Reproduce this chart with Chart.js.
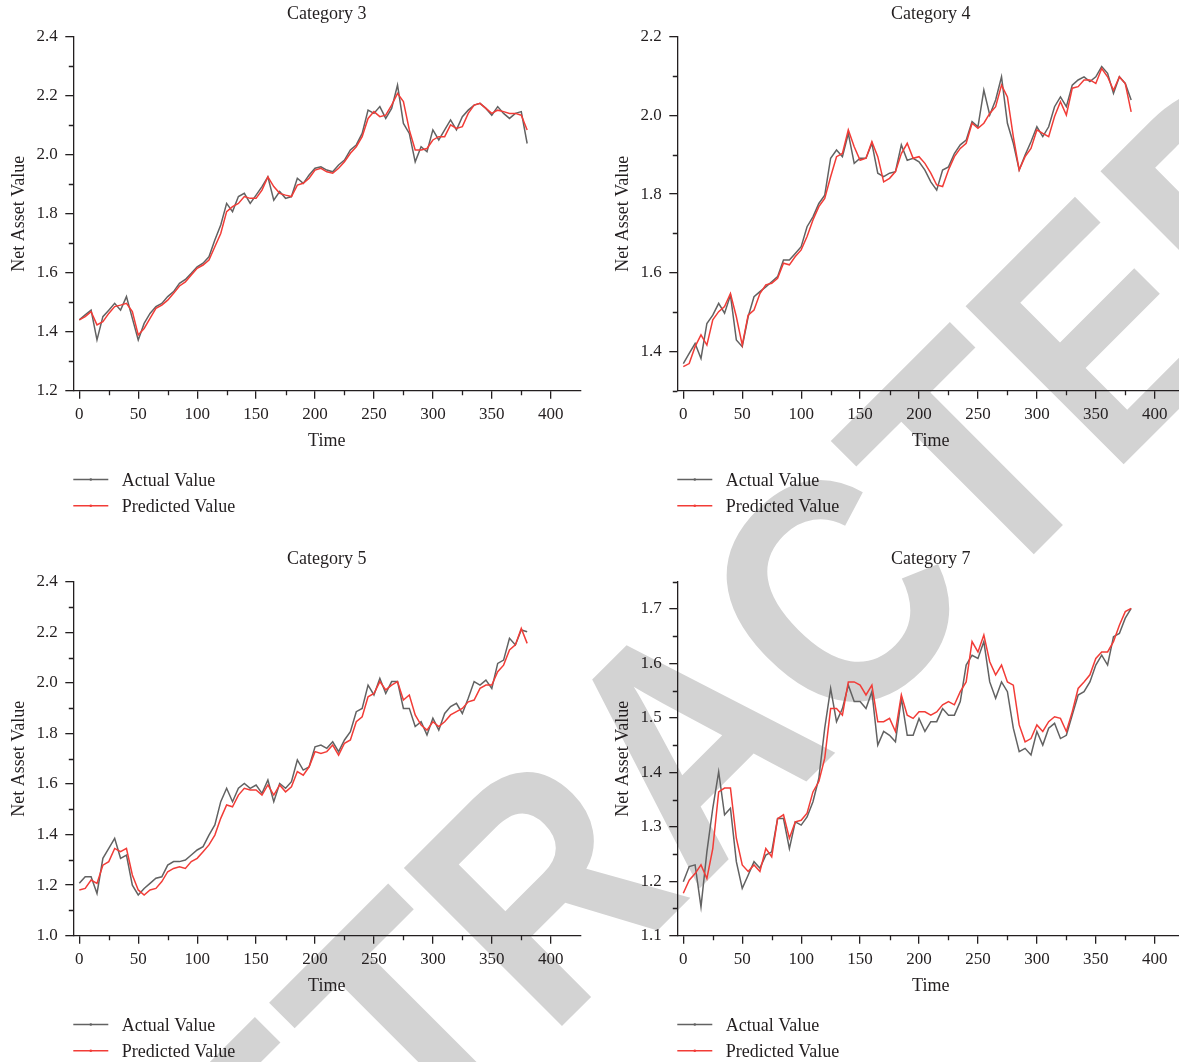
<!DOCTYPE html>
<html>
<head>
<meta charset="utf-8">
<title>Net Asset Value - Actual vs Predicted</title>
<script src="https://cdn.jsdelivr.net/npm/chart.js@4.4.1/dist/chart.umd.min.js"></script>
<style>
    html, body { margin: 0; padding: 0; background: #fff; }
    #page { position: relative; width: 1179px; height: 1062px; overflow: hidden; background: #fff; }
    #page canvas { position: absolute; }
    #stamp { position: absolute; left: 0; top: 0; }
</style>
</head>
<body>
<div id="page">
    <!-- watermark, sits under the charts -->
    <svg id="stamp" width="1179" height="1062">
        <text transform="translate(144 1444) rotate(-45) scale(0.88 1)" font-family="'Liberation Sans', Arial, sans-serif"
              font-weight="bold" font-size="325" fill="#d3d3d3">RETRACTED</text>
    </svg>
    <canvas id="cat3" width="590" height="540" style="left:0;top:0"></canvas>
    <canvas id="cat4" width="590" height="540" style="left:604px;top:0"></canvas>
    <canvas id="cat5" width="590" height="540" style="left:0;top:545px"></canvas>
    <canvas id="cat7" width="590" height="540" style="left:604px;top:545px"></canvas>
</div>
<script>
// 시간축
const timeSteps = [0, 5, 10, 15, 20, 25, 30, 35, 40, 45, 50, 55, 60, 65, 70, 75, 80, 85, 90, 95,
    100, 105, 110, 115, 120, 125, 130, 135, 140, 145, 150, 155, 160, 165, 170, 175, 180, 185, 190, 195,
    200, 205, 210, 215, 220, 225, 230, 235, 240, 245, 250, 255, 260, 265, 270, 275, 280, 285, 290, 295,
    300, 305, 310, 315, 320, 325, 330, 335, 340, 345, 350, 355, 360, 365, 370, 375, 380];

// Category 3
const cat3Actual = [1.440, 1.457, 1.473, 1.372, 1.451, 1.473, 1.496, 1.473, 1.519, 1.445,
    1.372, 1.428, 1.462, 1.485, 1.496, 1.519, 1.536, 1.564, 1.577, 1.598,
    1.620, 1.632, 1.654, 1.711, 1.762, 1.835, 1.807, 1.858, 1.869, 1.835,
    1.863, 1.892, 1.925, 1.846, 1.875, 1.852, 1.858, 1.920, 1.903, 1.931,
    1.954, 1.959, 1.948, 1.942, 1.965, 1.982, 2.016, 2.033, 2.072, 2.151,
    2.140, 2.163, 2.123, 2.157, 2.236, 2.106, 2.072, 1.976, 2.027, 2.010,
    2.084, 2.050, 2.084, 2.118, 2.084, 2.129, 2.151, 2.168, 2.174, 2.157,
    2.134, 2.163, 2.140, 2.123, 2.140, 2.146, 2.038];
const cat3Predicted = [1.440, 1.451, 1.468, 1.423, 1.434, 1.462, 1.485, 1.490, 1.496, 1.468,
    1.389, 1.411, 1.445, 1.479, 1.490, 1.507, 1.530, 1.555, 1.569, 1.592,
    1.615, 1.626, 1.643, 1.688, 1.733, 1.807, 1.824, 1.835, 1.858, 1.852,
    1.852, 1.880, 1.925, 1.892, 1.869, 1.863, 1.858, 1.897, 1.903, 1.920,
    1.948, 1.954, 1.942, 1.937, 1.954, 1.976, 2.005, 2.027, 2.061, 2.123,
    2.146, 2.129, 2.134, 2.168, 2.208, 2.180, 2.084, 2.016, 2.016, 2.021,
    2.050, 2.061, 2.061, 2.101, 2.089, 2.095, 2.140, 2.168, 2.174, 2.157,
    2.140, 2.151, 2.146, 2.140, 2.140, 2.134, 2.084];

// Category 4
const cat4Actual = [1.369, 1.395, 1.420, 1.382, 1.471, 1.492, 1.522, 1.497, 1.543, 1.429,
    1.412, 1.488, 1.539, 1.552, 1.564, 1.577, 1.590, 1.632, 1.632, 1.649,
    1.666, 1.717, 1.742, 1.776, 1.797, 1.891, 1.912, 1.895, 1.954, 1.878,
    1.891, 1.891, 1.929, 1.853, 1.844, 1.853, 1.857, 1.925, 1.886, 1.891,
    1.882, 1.861, 1.831, 1.810, 1.861, 1.869, 1.903, 1.925, 1.937, 1.984,
    1.971, 2.064, 2.001, 2.039, 2.098, 1.980, 1.929, 1.861, 1.899, 1.933,
    1.971, 1.946, 1.971, 2.022, 2.047, 2.022, 2.077, 2.090, 2.098, 2.086,
    2.098, 2.124, 2.107, 2.056, 2.098, 2.081, 2.039];
const cat4Predicted = [1.361, 1.369, 1.412, 1.442, 1.416, 1.480, 1.501, 1.514, 1.547, 1.488,
    1.416, 1.492, 1.505, 1.547, 1.569, 1.573, 1.586, 1.624, 1.620, 1.641,
    1.658, 1.692, 1.734, 1.768, 1.789, 1.844, 1.895, 1.903, 1.963, 1.920,
    1.886, 1.891, 1.933, 1.895, 1.831, 1.840, 1.857, 1.903, 1.929, 1.891,
    1.895, 1.878, 1.853, 1.823, 1.819, 1.861, 1.895, 1.916, 1.929, 1.980,
    1.967, 1.980, 2.005, 2.022, 2.077, 2.047, 1.946, 1.861, 1.895, 1.916,
    1.963, 1.954, 1.946, 1.997, 2.035, 2.001, 2.069, 2.073, 2.090, 2.090,
    2.081, 2.119, 2.098, 2.064, 2.098, 2.081, 2.009];

// Category 5
const cat5Actual = [1.207, 1.233, 1.233, 1.167, 1.306, 1.345, 1.385, 1.306, 1.319, 1.200,
    1.161, 1.187, 1.207, 1.227, 1.233, 1.279, 1.293, 1.293, 1.299, 1.319,
    1.339, 1.352, 1.398, 1.438, 1.530, 1.583, 1.530, 1.583, 1.602, 1.583,
    1.596, 1.563, 1.616, 1.530, 1.602, 1.583, 1.609, 1.695, 1.655, 1.668,
    1.747, 1.754, 1.741, 1.767, 1.728, 1.774, 1.807, 1.886, 1.899, 1.991,
    1.952, 2.018, 1.958, 2.005, 2.005, 1.899, 1.899, 1.827, 1.846, 1.794,
    1.860, 1.813, 1.879, 1.906, 1.919, 1.879, 1.939, 2.005, 1.991, 2.011,
    1.978, 2.077, 2.090, 2.176, 2.150, 2.209, 2.202];
const cat5Predicted = [1.181, 1.187, 1.220, 1.207, 1.279, 1.293, 1.345, 1.332, 1.345, 1.240,
    1.181, 1.161, 1.181, 1.187, 1.214, 1.253, 1.266, 1.273, 1.266, 1.293,
    1.306, 1.332, 1.359, 1.398, 1.464, 1.517, 1.510, 1.556, 1.583, 1.576,
    1.576, 1.556, 1.596, 1.556, 1.596, 1.569, 1.589, 1.649, 1.635, 1.668,
    1.728, 1.721, 1.728, 1.754, 1.714, 1.761, 1.774, 1.846, 1.866, 1.945,
    1.958, 2.005, 1.972, 1.991, 2.005, 1.932, 1.952, 1.873, 1.833, 1.813,
    1.846, 1.827, 1.846, 1.873, 1.886, 1.899, 1.925, 1.932, 1.978, 1.991,
    1.991, 2.044, 2.070, 2.130, 2.150, 2.215, 2.156];

// Category 7
const cat7Actual = [1.199, 1.227, 1.230, 1.153, 1.254, 1.334, 1.401, 1.322, 1.334, 1.236,
    1.187, 1.211, 1.236, 1.224, 1.248, 1.254, 1.315, 1.315, 1.260, 1.309,
    1.303, 1.318, 1.346, 1.389, 1.481, 1.554, 1.493, 1.517, 1.560, 1.530,
    1.530, 1.517, 1.548, 1.450, 1.475, 1.468, 1.456, 1.536, 1.468, 1.468,
    1.499, 1.475, 1.493, 1.493, 1.517, 1.505, 1.505, 1.530, 1.597, 1.615,
    1.609, 1.640, 1.566, 1.536, 1.566, 1.548, 1.481, 1.438, 1.444, 1.432,
    1.475, 1.450, 1.481, 1.490, 1.462, 1.468, 1.505, 1.542, 1.548, 1.566,
    1.597, 1.615, 1.597, 1.649, 1.655, 1.683, 1.701];
const cat7Predicted = [1.178, 1.202, 1.214, 1.230, 1.205, 1.260, 1.364, 1.371, 1.371, 1.279,
    1.230, 1.218, 1.230, 1.218, 1.260, 1.245, 1.315, 1.322, 1.279, 1.309,
    1.312, 1.325, 1.364, 1.383, 1.426, 1.517, 1.517, 1.505, 1.566, 1.566,
    1.560, 1.542, 1.560, 1.493, 1.493, 1.499, 1.475, 1.542, 1.505, 1.499,
    1.511, 1.511, 1.505, 1.511, 1.524, 1.530, 1.524, 1.548, 1.566, 1.640,
    1.621, 1.652, 1.603, 1.579, 1.597, 1.566, 1.560, 1.487, 1.456, 1.462,
    1.487, 1.475, 1.493, 1.502, 1.499, 1.475, 1.511, 1.554, 1.566, 1.579,
    1.609, 1.621, 1.621, 1.640, 1.670, 1.695, 1.701];

// 눈금
const xTickValues = [0, 50, 100, 150, 200, 250, 300, 350, 400];
const xMinorValues = [25, 75, 125, 175, 225, 275, 325, 375];
const cat3YTicks = [1.2, 1.4, 1.6, 1.8, 2.0, 2.2, 2.4];
const cat3YMinor = [1.3, 1.5, 1.7, 1.9, 2.1, 2.3];
const cat4YTicks = [1.4, 1.6, 1.8, 2.0, 2.2];
const cat4YMinor = [1.3, 1.5, 1.7, 1.9, 2.1];
const cat5YTicks = [1.0, 1.2, 1.4, 1.6, 1.8, 2.0, 2.2, 2.4];
const cat5YMinor = [1.1, 1.3, 1.5, 1.7, 1.9, 2.1, 2.3];
const cat7YTicks = [1.1, 1.2, 1.3, 1.4, 1.5, 1.6, 1.7];
const cat7YMinor = [1.15, 1.25, 1.35, 1.45, 1.55, 1.65, 1.75];

const INK = '#231f20';
const GRAY_LINE = '#626262';
const RED_LINE = '#f23c37';
const SERIF = "'Liberation Serif', 'Times New Roman', serif";

// 보조 눈금, 제목, 축 제목, 범례 그리기
const panelDecor = {
    id: 'panelDecor',
    afterDraw(chart, args, opts) {
        const ctx = chart.ctx;
        const area = chart.chartArea;
        const xs = chart.scales.x;
        const ys = chart.scales.y;
        const midX = (area.left + area.right) / 2;
        ctx.save();

        // minor ticks
        ctx.strokeStyle = INK;
        ctx.lineWidth = 1.3;
        ctx.beginPath();
        opts.xMinor.forEach(function (v) {
            const px = Math.round(xs.getPixelForValue(v)) + 0.5;
            ctx.moveTo(px, area.bottom);
            ctx.lineTo(px, area.bottom + 4.5);
        });
        opts.yMinor.forEach(function (v) {
            const py = Math.round(ys.getPixelForValue(v)) + 0.5;
            ctx.moveTo(area.left - 4.5, py);
            ctx.lineTo(area.left, py);
        });
        ctx.stroke();

        // titles
        ctx.fillStyle = INK;
        ctx.font = '18px ' + SERIF;
        ctx.textAlign = 'center';
        ctx.textBaseline = 'alphabetic';
        ctx.fillText(opts.title, midX, 18.5);
        ctx.fillText('Time', midX, 446);

        ctx.save();
        ctx.translate(23.5, (area.top + area.bottom) / 2);
        ctx.rotate(-Math.PI / 2);
        ctx.fillText('Net Asset Value', 0, 0);
        ctx.restore();

        // legend (세로 배치)
        ctx.textAlign = 'left';
        chart.data.datasets.forEach(function (ds, i) {
            const ly = 479.5 + i * 26.3;
            ctx.strokeStyle = ds.borderColor;
            ctx.lineWidth = 1.4;
            ctx.beginPath();
            ctx.moveTo(area.left, ly);
            ctx.lineTo(area.left + 35, ly);
            ctx.stroke();
            ctx.fillStyle = ds.borderColor;
            ctx.beginPath();
            ctx.arc(area.left + 17.5, ly, 1.3, 0, Math.PI * 2);
            ctx.fill();
            ctx.fillStyle = INK;
            ctx.fillText(ds.label, area.left + 48.5, ly + 6.5);
        });

        ctx.restore();
    }
};

function toPoints(values) {
    return timeSteps.map(function (t, i) {
        return {x: t, y: values[i]};
    });
}

function drawPanel(canvasId, title, actual, predicted, yTicks, yMinor, yMin, yMax) {
    return new Chart(document.getElementById(canvasId), {
        type: 'line',
        data: {
            datasets: [{
                label: 'Actual Value',
                data: toPoints(actual),
                borderColor: GRAY_LINE,
                borderWidth: 1.5,
                pointRadius: 0,
                order: 2
            }, {
                label: 'Predicted Value',
                data: toPoints(predicted),
                borderColor: RED_LINE,
                borderWidth: 1.5,
                pointRadius: 0,
                order: 1
            }]
        },
        options: {
            responsive: false,
            animation: false,
            devicePixelRatio: 1,
            layout: {
                autoPadding: false,
                padding: {left: 0, right: 9.8, top: 36.7, bottom: 0}
            },
            plugins: {
                legend: {display: false},
                tooltip: {enabled: false},
                title: {display: false},
                panelDecor: {title: title, xMinor: xMinorValues, yMinor: yMinor}
            },
            scales: {
                x: {
                    type: 'linear',
                    min: -5.1,
                    max: 425,
                    afterBuildTicks: function (scale) {
                        scale.ticks = xTickValues.map(v => ({value: v}));
                    },
                    afterFit: function (scale) {
                        scale.height = 149.3;
                    },
                    border: {display: true, color: INK, width: 1.3},
                    grid: {display: true, drawOnChartArea: false, drawTicks: true, tickLength: 8, color: INK, lineWidth: 1.3},
                    ticks: {
                        autoSkip: false,
                        maxRotation: 0,
                        padding: 5.5,
                        color: INK,
                        font: {family: SERIF, size: 17},
                        callback: v => String(v)
                    }
                },
                y: {
                    type: 'linear',
                    min: yMin,
                    max: yMax,
                    afterBuildTicks: function (scale) {
                        scale.ticks = yTicks.map(v => ({value: v}));
                    },
                    afterFit: function (scale) {
                        scale.width = 73.3;
                    },
                    border: {display: true, color: INK, width: 1.3},
                    grid: {display: true, drawOnChartArea: false, drawTicks: true, tickLength: 8, color: INK, lineWidth: 1.3},
                    ticks: {
                        autoSkip: false,
                        padding: 7.5,
                        color: INK,
                        font: {family: SERIF, size: 17},
                        callback: v => Number(v).toFixed(1)
                    }
                }
            }
        },
        plugins: [panelDecor]
    });
}

drawPanel('cat3', 'Category 3', cat3Actual, cat3Predicted, cat3YTicks, cat3YMinor, 1.2, 2.4);
drawPanel('cat4', 'Category 4', cat4Actual, cat4Predicted, cat4YTicks, cat4YMinor, 1.3, 2.2);
drawPanel('cat5', 'Category 5', cat5Actual, cat5Predicted, cat5YTicks, cat5YMinor, 1.0, 2.4);
drawPanel('cat7', 'Category 7', cat7Actual, cat7Predicted, cat7YTicks, cat7YMinor, 1.1, 1.75);
</script>
</body>
</html>
